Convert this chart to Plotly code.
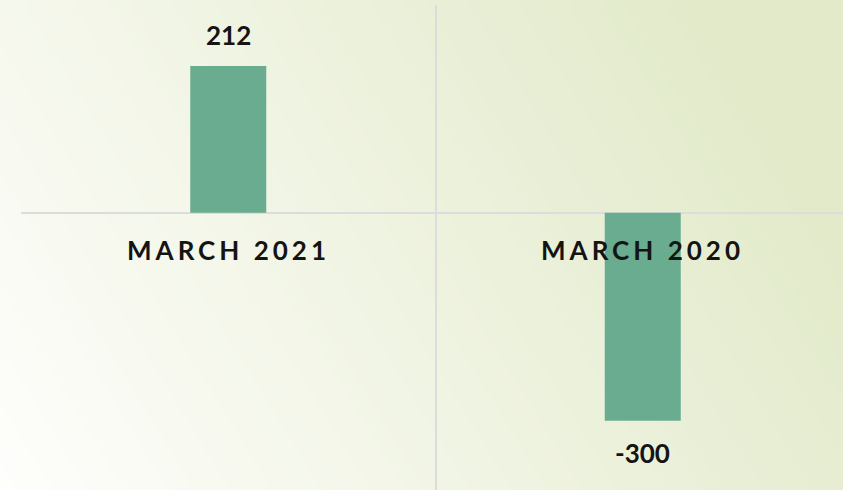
import plotly.graph_objects as go
import zlib, struct, base64

# ---- data ----
categories = ["MARCH 2021", "MARCH 2020"]
values = [212, -300]
value_labels = ["212", "-300"]
y_range = [-400, 300]

# ---- layout constants ----
W, H = 843, 490
ML, MR, MT, MB = 21, 0, 5, 0
PW, PH = W - ML - MR, H - MT - MB
CAT_PX = 414.5  # pixel width of one category band

BAR_COLOR = "#69ac90"
GRID_COLOR = "#dcdcdc"
TEXT_COLOR = "#141414"
FONT = "Lato"
WEIGHT = "bold"


def png_data_uri(w, h, pixel):
    raw = bytearray()
    for j in range(h):
        raw.append(0)
        for i in range(w):
            raw.extend(pixel(i / (w - 1), j / (h - 1)))

    def chunk(t, d):
        c = struct.pack(">I", len(d)) + t + d
        return c + struct.pack(">I", zlib.crc32(t + d) & 0xFFFFFFFF)

    png = (b"\x89PNG\r\n\x1a\n"
           + chunk(b"IHDR", struct.pack(">IIBBBBB", w, h, 8, 2, 0, 0, 0))
           + chunk(b"IDAT", zlib.compress(bytes(raw), 9))
           + chunk(b"IEND", b""))
    return "data:image/png;base64," + base64.b64encode(png).decode()


LIGHT = (254, 254, 252)
GREEN = (226, 234, 202)


def grad(xn, yn):
    t = min(1.0, max(0.0, 0.85 * xn + 0.3 * (1 - yn)))
    return bytes(round(a + (b - a) * t) for a, b in zip(LIGHT, GREEN))


bg_uri = png_data_uri(211, 123, grad)

fig = go.Figure()
fig.add_trace(go.Bar(
    x=categories, y=values, width=76 / CAT_PX,
    marker=dict(color=BAR_COLOR, line=dict(width=0)),
    hoverinfo="x+y",
))

annotations = []
for cat, v, lab in zip(categories, values, value_labels):
    pos = v >= 0
    annotations.append(dict(
        x=cat, y=v, xref="x", yref="y", text=lab, showarrow=False,
        yanchor="bottom" if pos else "top", yshift=13 if pos else -14,
        font=dict(family=FONT, size=26, color=TEXT_COLOR, weight=WEIGHT),
    ))
    annotations.append(dict(
        x=cat, y=0, xref="x", yref="y",
        text=f'<span style="letter-spacing:4px">{cat}</span>',
        showarrow=False, yanchor="middle", yshift=-37,
        font=dict(family=FONT, size=26, color=TEXT_COLOR, weight=WEIGHT),
    ))

fig.update_layout(
    width=W, height=H,
    margin=dict(l=ML, r=MR, t=MT, b=MB, pad=0),
    paper_bgcolor="#fbfcf6",
    plot_bgcolor="rgba(0,0,0,0)",
    showlegend=False,
    annotations=annotations,
    images=[dict(
        source=bg_uri, xref="paper", yref="paper",
        x=-ML / PW, y=1 + MT / PH, sizex=W / PW, sizey=H / PH,
        xanchor="left", yanchor="top", sizing="stretch", layer="below",
    )],
    xaxis=dict(
        type="category", tickson="boundaries",
        range=[-0.5, -0.5 + PW / CAT_PX],
        showgrid=True, gridcolor=GRID_COLOR, gridwidth=2,
        showticklabels=False, ticks="", zeroline=False, showline=False,
    ),
    yaxis=dict(
        range=y_range, showgrid=False, zeroline=True,
        zerolinecolor=GRID_COLOR, zerolinewidth=2,
        showticklabels=False, ticks="", showline=False,
    ),
)

fig.write_html(
    "out.html",
    config={"displayModeBar": False},
    post_script="document.body.style.margin='0';document.body.style.overflow='hidden';",
)
